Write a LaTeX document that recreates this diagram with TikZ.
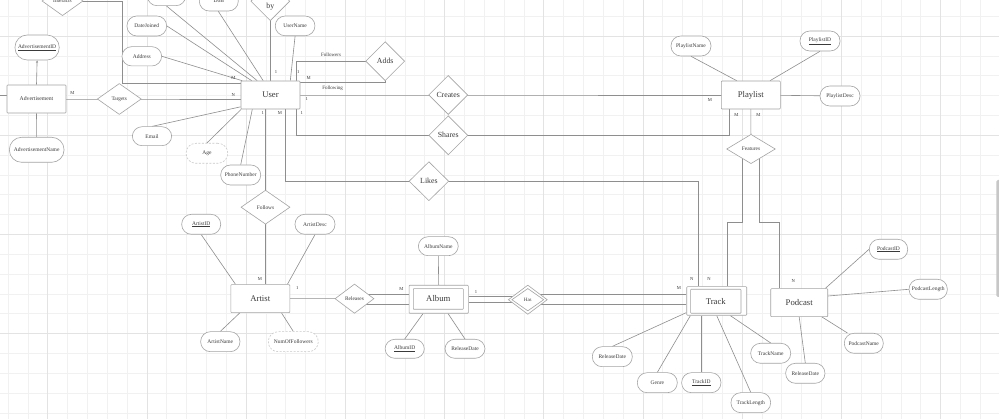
\documentclass[tikz,border=0pt]{standalone}
\usepackage{fontspec}
\setmainfont{Liberation Serif}
\usetikzlibrary{shapes.geometric,calc,arrows.meta}
\pgfdeclarelayer{gridlayer}
\pgfdeclarelayer{background}
\pgfsetlayers{gridlayer,background,main}
\definecolor{gmin}{HTML}{F1F1F1}
\definecolor{gmaj}{HTML}{E3E3E3}
\definecolor{ln}{HTML}{8E8E8E}
\definecolor{bd}{HTML}{A4A4A4}
\definecolor{tx}{HTML}{3A3A3A}
\tikzset{
 ent/.style={draw=bd, fill=white, line width=0.6pt, rounded corners=0.8pt, minimum width=59pt, minimum height=28pt, inner sep=0pt, font=\fontsize{8.7}{9}\selectfont, text=tx},
 inbox/.style={draw=bd, line width=0.6pt, rounded corners=0.6pt, inner sep=0pt},
 attr/.style={draw=bd, fill=white, line width=0.6pt, rounded corners=9.8pt, minimum width=40pt, minimum height=20pt, inner sep=0pt, font=\fontsize{5.5}{6}\selectfont, text=tx},
 derived/.style={attr, draw=bd!60, dash pattern=on 2pt off 1.5pt},
 rel/.style={diamond, draw=bd, fill=white, line width=0.6pt, inner sep=0pt, minimum width=39pt, minimum height=39pt, font=\fontsize{7.8}{8}\selectfont, text=tx},
 srel/.style={rel, minimum width=39pt, minimum height=29.3pt, font=\fontsize{5.4}{6}\selectfont},
 card/.style={font=\fontsize{4.6}{5}\selectfont, text=tx, inner sep=0pt},
 conn/.style={draw=ln, line width=0.6pt},
}
\begin{document}
\begin{tikzpicture}[x=1pt,y=-1pt]
\useasboundingbox (0,0) rectangle (999,419);
\begin{pgfonlayer}{gridlayer}
 \fill[white] (0,0) rectangle (999,419);
 \foreach \i in {0,...,50} {\draw[gmin,line width=0.6pt] ({8+19.84*\i},0) -- ({8+19.84*\i},419);}
 \foreach \j in {0,...,20} {\draw[gmin,line width=0.6pt] (0,{16.2+19.84*\j}) -- (999,{16.2+19.84*\j});}
 \foreach \i in {0,...,9} {\draw[gmaj,line width=0.6pt] ({47.7+99.2*\i},0) -- ({47.7+99.2*\i},419);}
 \foreach \j in {0,...,3} {\draw[gmaj,line width=0.6pt] (0,{36+99.2*\j}) -- (999,{36+99.2*\j});}
 \fill[black!22, rounded corners=1.5pt] (996.3,180) rectangle (1003,297);
\end{pgfonlayer}

% entities
\node[ent] (user) at (270.5,95) {User};
\node[ent, font=\fontsize{5.7}{6}\selectfont] (adv) at (36.5,99) {Advertisement};
\node[ent] (playlist) at (750.8,95) {Playlist};
\node[ent] (artist) at (260.3,298.6) {Artist};
\node[ent, minimum width=59.3pt, minimum height=28pt] (album) at (438.7,299.3) {};
\node[inbox, minimum width=50pt, minimum height=20.6pt, font=\fontsize{8.7}{9}\selectfont, text=tx] (albumin) at (438.3,299) {Album};
\node[ent, minimum width=60pt, minimum height=28.6pt] (track) at (716.7,301) {};
\node[inbox, minimum width=50.3pt, minimum height=24pt, font=\fontsize{8.7}{9}\selectfont, text=tx] (trackin) at (715.8,301.3) {Track};
\node[ent, minimum width=57pt] (podcast) at (799.2,302.7) {Podcast};

% relationships
\node[srel, minimum width=41pt] (interacts) at (62.5,1) {Interacts};
\node[rel] (by) at (270.3,1.2) {};
\node[font=\fontsize{7.8}{8}\selectfont, text=tx, inner sep=0pt] (bytext) at (270.3,6.7) {by};
\node[rel] (adds) at (385.2,61.2) {Adds};
\node[rel] (creates) at (448.2,95) {Creates};
\node[rel] (shares) at (448.3,135.3) {Shares};
\node[rel, minimum width=39.7pt] (likes) at (428.9,181.2) {Likes};
\node[srel, minimum width=44pt, minimum height=31pt, font=\fontsize{5.3}{6}\selectfont] (targets) at (119.3,99) {Targets};
\node[srel, minimum width=49pt, minimum height=34pt] (follows) at (265.5,207.2) {Follows};
\node[srel] (releases) at (354.5,298.7) {Releases};
\node[srel, font=\fontsize{5}{6}\selectfont] (has) at (527.8,299.7) {};
\node[diamond, draw=bd, line width=0.6pt, inner sep=0pt, minimum width=32pt, minimum height=22.5pt, font=\fontsize{5}{6}\selectfont, text=tx] (hasin) at (527.8,299.7) {Has};
\node[srel, minimum width=48.7pt] (features) at (751,149) {Features};

% attributes
\node[attr, minimum width=38.4pt] (topattr) at (166.5,-4.3) {};
\node[attr, minimum width=39pt] (dob) at (218.8,1) {DoB};
\node[attr, minimum width=39.7pt] (datejoined) at (146.8,26) {DateJoined};
\node[attr, minimum width=39.7pt, minimum height=19.3pt] (address) at (141.8,56.3) {Address};
\node[attr, minimum width=39.7pt, minimum height=19.7pt] (username) at (295.1,25.9) {UserName};
\node[attr, minimum width=39.4pt, minimum height=19pt] (email) at (152,136.2) {Email};
\node[derived, minimum width=41.7pt] (age) at (206.9,153.3) {Age};
\node[attr] (phone) at (240.7,175) {PhoneNumber};
\node[attr, minimum width=44.3pt, minimum height=25pt, rounded corners=12.3pt] (advid) at (37.1,47.5) {\underline{AdvertisementID}};
\node[attr, minimum width=54.7pt, minimum height=25pt, rounded corners=12.3pt] (advname) at (36.7,149.8) {AdvertisementName};
\node[attr] (playlistname) at (691,46) {PlaylistName};
\node[attr] (playlistid) at (820,41) {\underline{PlaylistID}};
\node[attr] (playlistdesc) at (840,96) {PlaylistDesc};
\node[attr, minimum width=39pt] (artistid) at (201.2,224.3) {\underline{ArtistID}};
\node[attr] (artistdesc) at (315,224.3) {ArtistDesc};
\node[attr, minimum width=39.3pt] (artistname) at (220.3,341.7) {ArtistName};
\node[derived, minimum width=50pt] (numfollowers) at (293.3,341.7) {NumOfFollowers};
\node[attr, minimum height=19pt] (albumname) at (438.3,246.2) {AlbumName};
\node[attr, minimum width=39.3pt, minimum height=19pt] (albumid) at (404.7,348.8) {\underline{AlbumID}};
\node[attr, minimum height=19pt] (albumrd) at (465,348.8) {ReleaseDate};
\node[attr] (trackrd) at (612.3,356.7) {ReleaseDate};
\node[attr] (genre) at (657.3,382.7) {Genre};
\node[attr, minimum width=39.3pt] (trackid) at (701.3,382.7) {\underline{TrackID}};
\node[attr, minimum width=39.7pt] (tracklength) at (750.8,402.7) {TrackLength};
\node[attr] (trackname) at (770.7,353.3) {TrackName};
\node[attr, minimum width=38.4pt] (podcastid) at (888.5,249.3) {\underline{PodcastID}};
\node[attr, minimum width=38.3pt] (podcastlength) at (928.2,289.3) {PodcastLength};
\node[attr, minimum width=39pt] (podcastname) at (863.8,343.3) {PodcastName};
\node[attr, minimum width=39.3pt] (podcastrd) at (805.3,373.3) {ReleaseDate};

% free ends and bends
\coordinate (advleft) at (0,95.7);
\coordinate (ibend) at (122.3,83.3);
\coordinate (fbend1) at (742.3,222.7);
\coordinate (fbend2) at (759,222.7);

\begin{pgfonlayer}{background}
 % user attributes
 \draw[conn] (topattr.south) -- ($(user.north west)+(16.5,0)$);
 \draw[conn] ($(dob.south)+(-0.5,0)$) -- ($(user.north west)+(22.5,0)$);
 \draw[conn] (datejoined.east) -- ($(user.north west)+(11,0)$);
 \draw[conn] (address.east) -- ($(user.north west)+(1.5,0)$);
 \draw[conn] (username.south) -- ($(user.north east)+(-10,0)$);
 \draw[conn] (email.north) -- ($(user.south west)+(0,-2.5)$);
 \draw[conn] (age.north) -- ($(user.south west)+(0.5,0)$);
 \draw[conn] (phone.north) -- ($(user.south west)+(11.6,0)$);
 % advertisement
 \draw[conn, -{Stealth[length=2.6pt,width=2.2pt]}] (adv.north) -- (advid.south);
 \draw[conn] (adv.south) -- (advname.north);
 \draw[conn] (advleft) -- (advleft -| adv.west);
 \draw[conn] (adv.center) -- (targets.center) -- (targets.center -| user.west);
 \draw[conn] (interacts.center) -| (ibend) -- (ibend -| user.west);
 % user relationships
 \draw[conn] (by.center) -- (by.center |- user.north);
 \draw[conn] ($(user.north east)+(-4,0)$) |- (adds.center);
 \draw[conn] (adds.center) |- ($(user.north east)+(0,1.7)$);
 \draw[conn] (user.center) -- (creates.center) -- (playlist.center);
 \draw[conn] ($(user.south east)+(-4,0)$) |- (shares.center);
 \draw[conn] (shares.center) -| ($(playlist.south west)+(8,0)$);
 \draw[conn] ($(user.south west)+(44.3,0)$) |- (likes.center);
 \draw[conn] (likes.center) -| ($(track.north west)+(12.3,0)$);
 \draw[conn] (follows.center |- user.south) -- (follows.center) -- (follows.center |- artist.north);
 % playlist
 \draw[conn] (playlistname.south) -- ($(playlist.north west)+(15.7,0)$);
 \draw[conn] (playlistid.south) -- ($(playlist.north west)+(49,0)$);
 \draw[conn] (playlist.center) -- (playlistdesc.center);
 \draw[conn] (playlist.center) -- (features.center);
 \draw[conn] (features.center -| fbend1) -- (fbend1) -| ($(track.north west)+(41,0)$);
 \draw[conn] (features.center -| fbend2) -- (fbend2) -| ($(podcast.north west)+(9.3,0)$);
 % artist
 \draw[conn] (artistid.south) -- ($(artist.north west)+(5,0)$);
 \draw[conn] (artistdesc.south) -- ($(artist.north east)+(-2.7,0)$);
 \draw[conn] (artistname.north) -- ($(artist.south west)+(9.3,0)$);
 \draw[conn] (numfollowers.north) -- ($(artist.south west)+(51,0)$);
 \draw[conn] (artist.center) -- (releases.center);
 \path ($(releases.center)+(0,-4.7)$) coordinate (r1) ($(releases.center)+(0,5.3)$) coordinate (r2);
 \draw[conn] (r1) -- (r1 -| album.west);
 \draw[conn] (r2) -- (r2 -| album.west);
 % album
 \draw[conn] (albumname.south) -- (album.north);
 \draw[conn] (albumid.north) -- ($(album.south west)+(14.3,0)$);
 \draw[conn] (albumrd.north) -- ($(album.south west)+(39.3,0)$);
 \path ($(has.center)+(0,-3.7)$) coordinate (h1) ($(has.center)+(0,3)$) coordinate (h2)
       ($(has.center)+(0,-5.4)$) coordinate (h3) ($(has.center)+(0,4.3)$) coordinate (h4);
 \draw[conn] (h1) -- (h1 -| album.east);
 \draw[conn] (h2) -- (h2 -| album.east);
 \draw[conn] (h3) -- (h3 -| track.west);
 \draw[conn] (h4) -- (h4 -| track.west);
 % track
 \draw[conn] (trackrd.north) -- ($(track.south west)+(0,-3)$);
 \draw[conn] (genre.north) -- ($(track.south west)+(4,0)$);
 \draw[conn] (trackid.north) -- (trackid.north |- track.south);
 \draw[conn] (tracklength.north) -- (track.south);
 \draw[conn] (trackname.north) -- ($(track.south east)+(-16.7,0)$);
 % podcast
 \draw[conn] (podcastid.west) -- ($(podcast.north east)+(-2.7,0)$);
 \draw[conn] (podcastlength.west) -- ($(podcast.east)+(0,-6.7)$);
 \draw[conn] (podcastname) -- ($(podcast.south east)+(-6,0)$);
 \draw[conn] (podcastrd.north) -- (podcast.south);
\end{pgfonlayer}

% cardinalities and role labels
\node[card] (c1) at (233.3,77.7) {M};
\node[card] (c2) at (233.3,95) {N};
\node[card] (c3) at (72.3,93.3) {M};
\node[card] (c4) at (276,71.7) {1};
\node[card] (c5) at (298.3,71.7) {1};
\node[card] (c6) at (308.7,78.3) {M};
\node[card] (c7) at (306.7,99.3) {1};
\node[card] (c8) at (262.7,113) {1};
\node[card] (c9) at (280,113) {M};
\node[card] (c10) at (301.7,113) {1};
\node[card] (c11) at (710,100) {M};
\node[card] (c12) at (736.3,115) {M};
\node[card] (c13) at (758.3,115) {M};
\node[card] (c14) at (260,278.7) {M};
\node[card] (c15) at (297.3,288.3) {1};
\node[card] (c16) at (401.3,288.7) {M};
\node[card] (c17) at (476,291.7) {1};
\node[card] (c18) at (679,288.3) {M};
\node[card] (c19) at (691.7,279) {N};
\node[card] (c20) at (709,279) {N};
\node[card] (c21) at (793.3,281.3) {N};
\node[card, font=\fontsize{5}{6}\selectfont] (followers) at (331,54.3) {Followers};
\node[card, font=\fontsize{5}{6}\selectfont] (following) at (332.7,88) {Following};
\end{tikzpicture}
\end{document}
